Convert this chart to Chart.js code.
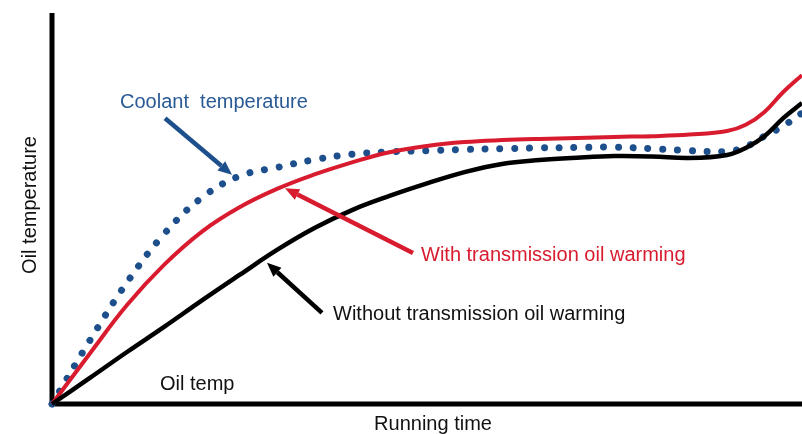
<!DOCTYPE html>
<html>
<head>
<meta charset="utf-8">
<script src="https://cdn.jsdelivr.net/npm/chart.js@4.4.1/dist/chart.umd.min.js"></script>
<style>
  html, body { margin: 0; padding: 0; background: #fff; }
  #wrap { width: 802px; height: 434px; }
</style>
</head>
<body>
<div id="wrap"><canvas id="oilChart"></canvas></div>
<script>
// running time samples (0..100) and temperatures (0..100, relative)
const runningTime = [0, 5, 10, 15, 20, 25, 30, 35, 40, 45, 50, 55, 60, 65, 70, 75, 80, 85, 90, 92.5, 95, 97.5, 100];
const coolantTemp = [0, 16.1, 31.1, 43.6, 52.8, 58.3, 60.5, 62.5, 63.9, 64.5, 64.8, 65.1, 65.3, 65.5, 65.6, 65.7, 65.3, 64.8, 64.6, 65.8, 68.5, 71.1, 74.4];
const withWarming = [0, 12.8, 25.3, 35.7, 44.1, 50.3, 55.0, 58.7, 61.8, 64.4, 66.0, 67.0, 67.5, 67.8, 68.0, 68.3, 68.5, 68.9, 69.8, 71.4, 74.7, 79.8, 84.1];
const withoutWarming = [0, 6.6, 13.3, 19.8, 26.5, 33.0, 39.4, 45.0, 49.6, 53.2, 56.4, 59.3, 61.4, 62.4, 63.0, 63.4, 63.3, 62.9, 63.7, 65.5, 68.5, 73.1, 77.0];

const BLUE = '#1d4f8c';
const RED = '#d81b2e';
const BLACK = '#000000';

// annotations: label text and arrows placed in data units
const labels = [
  { text: 'Coolant  temperature', x: 9.07, y: 77.2, color: '#2a5a95' },
  { text: 'With transmission oil warming', x: 49.2, y: 37.9, color: RED },
  { text: 'Without transmission oil warming', x: 37.47, y: 23.0, color: '#111' },
  { text: 'Oil temp', x: 14.4, y: 5.1, color: '#111' }
];
const arrows = [
  { from: [15.07, 73.1], to: [24.0, 58.6], color: BLUE },
  { from: [48.13, 38.6], to: [31.07, 55.2], color: RED },
  { from: [36.0, 23.3], to: [28.67, 36.1], color: BLACK }
];

function toPoints(ys) {
  return runningTime.map((t, i) => ({ x: t, y: ys[i] }));
}

const axesPlugin = {
  id: 'axesPlugin',
  beforeDatasetsDraw(chart) {
    const { ctx, chartArea: a } = chart;
    ctx.save();
    ctx.strokeStyle = '#000';
    ctx.lineWidth = 5;
    ctx.lineCap = 'butt';
    ctx.beginPath();
    ctx.moveTo(a.left, a.top);
    ctx.lineTo(a.left, a.bottom + 2.5);
    ctx.moveTo(a.left - 2.5, a.bottom);
    ctx.lineTo(a.right, a.bottom);
    ctx.stroke();

    ctx.fillStyle = '#111';
    ctx.font = '20px "Liberation Sans", Arial, sans-serif';
    ctx.textAlign = 'center';
    ctx.textBaseline = 'middle';
    ctx.fillText('Running time', (a.left + a.right) / 2 + 6, a.bottom + 20);
    ctx.translate(a.left - 22, 205);
    ctx.rotate(-Math.PI / 2);
    ctx.fillText('Oil temperature', 0, 0);
    ctx.restore();
  },
  afterDatasetsDraw(chart) {
    const { ctx, scales } = chart;
    const px = v => scales.x.getPixelForValue(v);
    const py = v => scales.y.getPixelForValue(v);
    ctx.save();
    arrows.forEach(ar => {
      const x1 = px(ar.from[0]), y1 = py(ar.from[1]);
      const x2 = px(ar.to[0]), y2 = py(ar.to[1]);
      const ang = Math.atan2(y2 - y1, x2 - x1);
      const head = 14, half = 6;
      const bx = x2 - head * Math.cos(ang), by = y2 - head * Math.sin(ang);
      ctx.strokeStyle = ar.color;
      ctx.fillStyle = ar.color;
      ctx.lineWidth = 4.5;
      ctx.beginPath();
      ctx.moveTo(x1, y1);
      ctx.lineTo(bx, by);
      ctx.stroke();
      ctx.beginPath();
      ctx.moveTo(x2, y2);
      ctx.lineTo(bx + half * Math.sin(ang), by - half * Math.cos(ang));
      ctx.lineTo(bx - half * Math.sin(ang), by + half * Math.cos(ang));
      ctx.closePath();
      ctx.fill();
    });
    ctx.font = '20px "Liberation Sans", Arial, sans-serif';
    ctx.textAlign = 'left';
    ctx.textBaseline = 'middle';
    labels.forEach(l => {
      ctx.fillStyle = l.color;
      ctx.fillText(l.text, px(l.x), py(l.y));
    });
    ctx.restore();
  }
};

new Chart(document.getElementById('oilChart'), {
  type: 'line',
  data: {
    datasets: [
      {
        label: 'Without transmission oil warming',
        data: toPoints(withoutWarming),
        borderColor: BLACK,
        borderWidth: 4.5,
        pointRadius: 0,
        tension: 0.4,
        fill: false
      },
      {
        label: 'With transmission oil warming',
        data: toPoints(withWarming),
        borderColor: RED,
        borderWidth: 4,
        pointRadius: 0,
        tension: 0.4,
        fill: false
      },
      {
        label: 'Coolant temperature',
        data: toPoints(coolantTemp),
        borderColor: BLUE,
        borderWidth: 7,
        borderCapStyle: 'round',
        borderDash: [0.01, 14.8],
        pointRadius: 0,
        tension: 0.4,
        fill: false
      }
    ]
  },
  options: {
    responsive: true,
    maintainAspectRatio: false,
    animation: false,
    clip: false,
    layout: { padding: { left: 52, right: 0, top: 13, bottom: 30 } },
    plugins: { legend: { display: false }, tooltip: { enabled: false } },
    scales: {
      x: { type: 'linear', min: 0, max: 100, display: false },
      y: { type: 'linear', min: 0, max: 100, display: false }
    }
  },
  plugins: [axesPlugin]
});
</script>
</body>
</html>
